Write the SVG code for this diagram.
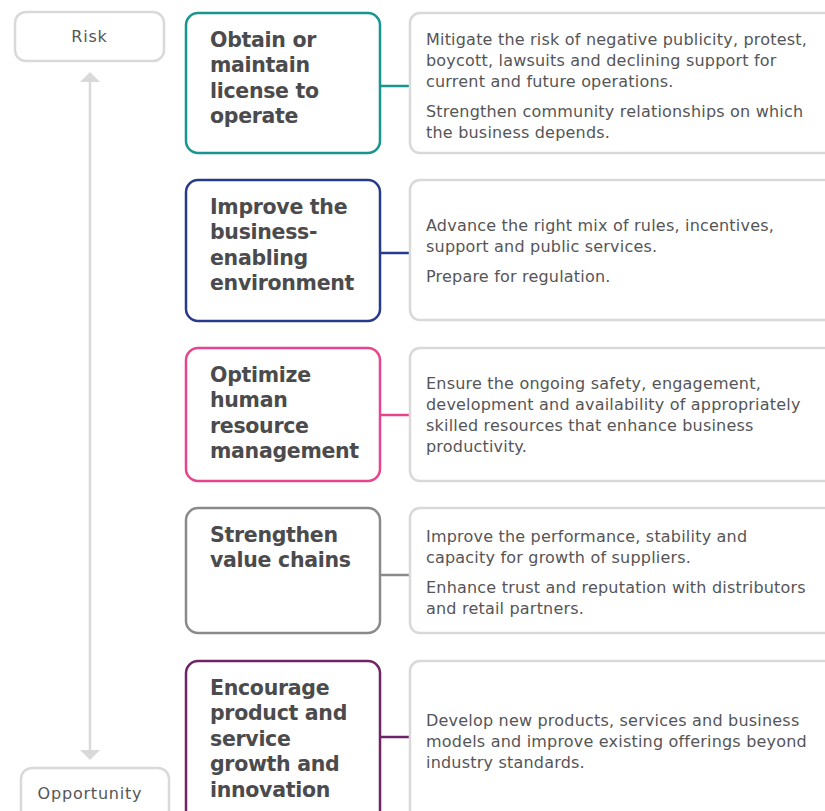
<svg xmlns="http://www.w3.org/2000/svg" width="825" height="811" viewBox="0 0 825 811">
<style>
.bg{fill:#fff}
.scale{fill:#fff;stroke:#d9d9d9;stroke-width:2.5}
.desc{fill:#fff;stroke:#d9d9d9;stroke-width:2.5}
.card{fill:#fff;stroke-width:2.5}
.title{font-family:"DejaVu Sans","Liberation Sans",Arial,sans-serif;font-weight:bold;font-size:20.5px;letter-spacing:-0.3px;fill:#4b4b4d}
.body{font-family:"DejaVu Sans","Liberation Sans",Arial,sans-serif;font-size:16px;letter-spacing:0.2px;fill:#555557}
.lbl{font-family:"DejaVu Sans","Liberation Sans",Arial,sans-serif;font-size:16px;letter-spacing:0.8px;fill:#555557;text-anchor:middle}
.conn{stroke-width:2.5;fill:none}
</style>
<rect class="bg" x="0" y="0" width="825" height="811"/>

<g id="connectors">
<line x1="90" y1="82" x2="90" y2="750" stroke="#d9d9d9" stroke-width="2.5"/>
<path d="M80,82 L90,72 L100,82 z" fill="#d9d9d9"/>
<path d="M80,750 L90,760 L100,750 z" fill="#d9d9d9"/>
<line class="conn" x1="380" y1="86" x2="410" y2="86" stroke="#17958f"/>
<line class="conn" x1="380" y1="253" x2="410" y2="253" stroke="#283a8c"/>
<line class="conn" x1="380" y1="415" x2="410" y2="415" stroke="#e8448e"/>
<line class="conn" x1="380" y1="575" x2="410" y2="575" stroke="#8a8a8a"/>
<line class="conn" x1="380" y1="737" x2="410" y2="737" stroke="#6e2466"/>
</g>

<g id="risk">
<rect class="scale" x="15" y="12" width="149" height="49" rx="11"/>
<text class="lbl" x="89.5" y="42">Risk</text>
</g>
<g id="opportunity">
<rect class="scale" x="21" y="768" width="148" height="60" rx="11"/>
<text class="lbl" x="90" y="799">Opportunity</text>
</g>

<g id="n1">
<rect class="card" x="186" y="13" width="194" height="140" rx="12" stroke="#17958f"/>
<text class="title"><tspan x="210" y="47">Obtain or</tspan><tspan x="210" y="72">maintain</tspan><tspan x="210" y="98">license to</tspan><tspan x="210" y="123">operate</tspan></text>
</g>
<g id="d1">
<rect class="desc" x="410" y="13" width="440" height="140" rx="10"/>
<text class="body"><tspan x="426" y="45">Mitigate the risk of negative publicity, protest,</tspan><tspan x="426" y="66">boycott, lawsuits and declining support for</tspan><tspan x="426" y="87">current and future operations.</tspan><tspan x="426" y="117">Strengthen community relationships on which</tspan><tspan x="426" y="138">the business depends.</tspan></text>
</g>

<g id="n2">
<rect class="card" x="186" y="180" width="194" height="141" rx="12" stroke="#283a8c"/>
<text class="title"><tspan x="210" y="214">Improve the</tspan><tspan x="210" y="239">business-</tspan><tspan x="210" y="265">enabling</tspan><tspan x="210" y="290">environment</tspan></text>
</g>
<g id="d2">
<rect class="desc" x="410" y="180" width="440" height="140" rx="10"/>
<text class="body"><tspan x="426" y="231">Advance the right mix of rules, incentives,</tspan><tspan x="426" y="252">support and public services.</tspan><tspan x="426" y="282">Prepare for regulation.</tspan></text>
</g>

<g id="n3">
<rect class="card" x="186" y="348" width="194" height="133" rx="12" stroke="#e8448e"/>
<text class="title"><tspan x="210" y="382">Optimize</tspan><tspan x="210" y="407">human</tspan><tspan x="210" y="433">resource</tspan><tspan x="210" y="458">management</tspan></text>
</g>
<g id="d3">
<rect class="desc" x="410" y="348" width="440" height="133" rx="10"/>
<text class="body"><tspan x="426" y="389">Ensure the ongoing safety, engagement,</tspan><tspan x="426" y="410">development and availability of appropriately</tspan><tspan x="426" y="431">skilled resources that enhance business</tspan><tspan x="426" y="452">productivity.</tspan></text>
</g>

<g id="n4">
<rect class="card" x="186" y="508" width="194" height="125" rx="12" stroke="#8a8a8a"/>
<text class="title"><tspan x="210" y="542">Strengthen</tspan><tspan x="210" y="567">value chains</tspan></text>
</g>
<g id="d4">
<rect class="desc" x="410" y="508" width="440" height="125" rx="10"/>
<text class="body"><tspan x="426" y="542">Improve the performance, stability and</tspan><tspan x="426" y="563">capacity for growth of suppliers.</tspan><tspan x="426" y="593">Enhance trust and reputation with distributors</tspan><tspan x="426" y="614">and retail partners.</tspan></text>
</g>

<g id="n5">
<rect class="card" x="186" y="661" width="194" height="170" rx="12" stroke="#6e2466"/>
<text class="title"><tspan x="210" y="695">Encourage</tspan><tspan x="210" y="720">product and</tspan><tspan x="210" y="746">service</tspan><tspan x="210" y="771">growth and</tspan><tspan x="210" y="797">innovation</tspan></text>
</g>
<g id="d5">
<rect class="desc" x="410" y="661" width="440" height="170" rx="10"/>
<text class="body"><tspan x="426" y="726">Develop new products, services and business</tspan><tspan x="426" y="747">models and improve existing offerings beyond</tspan><tspan x="426" y="768">industry standards.</tspan></text>
</g>
</svg>
